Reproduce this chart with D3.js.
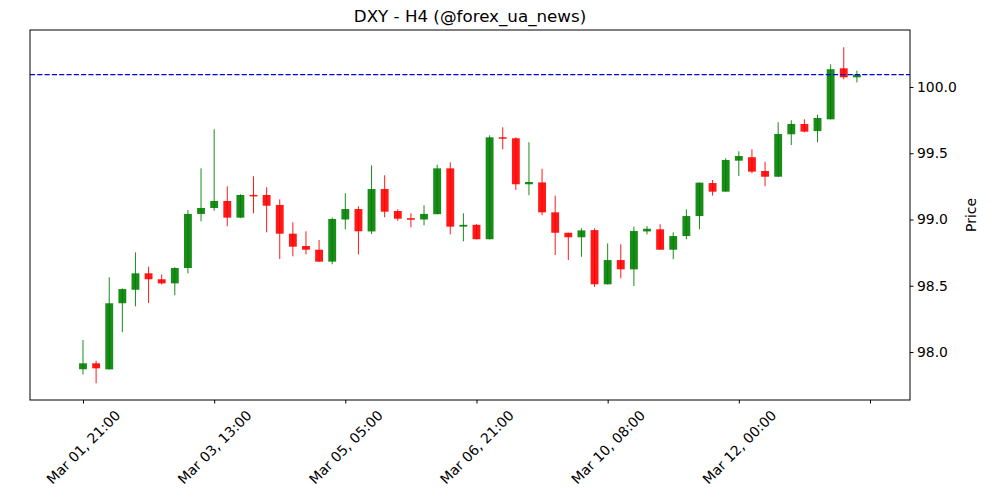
<!DOCTYPE html>
<html>
<head>
<meta charset="utf-8">
<script src="https://cdn.jsdelivr.net/npm/d3@7"></script>
<style>
  html, body { margin: 0; padding: 0; background: #fff; }
  svg { display: block; font-family: "DejaVu Sans", sans-serif; }
</style>
</head>
<body>
<svg id="chart" width="1000" height="500"></svg>
<script>
// ---- data ----
const opens  = [97.87, 97.915, 97.869, 98.368, 98.47, 98.594, 98.549, 98.518, 98.634, 99.042,
                99.087, 99.14, 99.014, 99.185, 99.185, 99.11, 98.893, 98.8, 98.772, 98.682,
                99.0, 99.079, 98.91, 99.23, 99.064, 99.01, 99.0, 99.04, 99.386, 98.946,
                98.96, 98.851, 99.62, 99.613, 99.266, 99.28, 99.054, 98.9, 98.866, 98.92,
                98.511, 98.694, 98.624, 98.91, 98.926, 98.772, 98.875, 99.026, 99.275, 99.21,
                99.444, 99.47, 99.366, 99.323, 99.643, 99.721, 99.667, 99.756, 100.141, 100.073];
const highs  = [98.09, 97.934, 98.564, 98.48, 98.752, 98.644, 98.586, 98.64, 99.072, 99.386,
                99.681, 99.251, 99.19, 99.326, 99.243, 99.152, 98.979, 98.911, 98.845, 99.014,
                99.198, 99.1, 99.409, 99.334, 99.077, 99.047, 99.107, 99.414, 99.432, 99.047,
                98.965, 99.635, 99.696, 99.62, 99.583, 99.383, 99.18, 98.9, 98.934, 98.934,
                98.82, 98.813, 98.946, 98.95, 98.964, 98.903, 99.077, 99.28, 99.298, 99.462,
                99.515, 99.53, 99.436, 99.734, 99.749, 99.756, 99.791, 100.171, 100.3, 100.123];
const lows   = [97.83, 97.764, 97.869, 98.149, 98.345, 98.37, 98.51, 98.428, 98.594, 98.986,
                99.066, 98.949, 99.01, 99.047, 98.903, 98.702, 98.722, 98.737, 98.68, 98.662,
                98.926, 98.737, 98.891, 99.017, 98.99, 98.941, 98.956, 99.04, 98.888, 98.835,
                98.85, 98.85, 99.53, 99.223, 99.183, 99.032, 98.732, 98.694, 98.719, 98.491,
                98.51, 98.556, 98.498, 98.888, 98.77, 98.7, 98.851, 98.926, 99.18, 99.21,
                99.328, 99.349, 99.251, 99.32, 99.562, 99.658, 99.583, 99.756, 100.058, 100.035];
const closes = [97.915, 97.877, 98.368, 98.475, 98.594, 98.549, 98.518, 98.634, 99.042, 99.087,
                99.14, 99.014, 99.185, 99.175, 99.104, 98.893, 98.795, 98.772, 98.682, 99.004,
                99.079, 98.911, 99.23, 99.059, 99.006, 98.998, 99.042, 99.386, 98.946, 98.96,
                98.851, 99.62, 99.61, 99.266, 99.283, 99.054, 98.9, 98.866, 98.918, 98.511,
                98.694, 98.624, 98.913, 98.93, 98.772, 98.875, 99.026, 99.278, 99.21, 99.449,
                99.479, 99.361, 99.323, 99.645, 99.721, 99.663, 99.766, 100.134, 100.073, 100.093];
const xTickIndex  = [0, 10, 20, 30, 40, 50, 60];
const xTickLabels = ["Mar 01, 21:00", "Mar 03, 13:00", "Mar 05, 05:00", "Mar 06, 21:00",
                     "Mar 10, 08:00", "Mar 12, 00:00", ""];
const yTicks = [98.0, 98.5, 99.0, 99.5, 100.0];
const lastPrice = 100.093;
const title = "DXY - H4 (@forex_ua_news)";
const yLabel = "Price";

// ---- layout ----
const L = 30, R = 910, T = 30, B = 400;
const svg = d3.select("#chart");
const x = d3.scaleLinear().domain([-4.04, 63.05]).range([L, R]);
const y = d3.scaleLinear().domain([97.638, 100.43]).range([B, T]);

const candles = opens.map((o, i) => ({i, o, h: highs[i], l: lows[i], c: closes[i]}));
const up = "#008000", dn = "#ff0000";
const bw = x(0.6) - x(0);

const plot = svg.append("g");
// wicks
plot.selectAll("line.wick").data(candles).join("line")
  .attr("x1", d => x(d.i)).attr("x2", d => x(d.i))
  .attr("y1", d => y(d.h)).attr("y2", d => y(d.l))
  .attr("stroke", d => d.c >= d.o ? up : dn)
  .attr("stroke-opacity", 0.9)
  .attr("stroke-width", 1);
// bodies
plot.selectAll("rect.body").data(candles).join("rect")
  .attr("x", d => x(d.i) - bw / 2)
  .attr("width", bw)
  .attr("y", d => {
    const top = y(Math.max(d.o, d.c)), bot = y(Math.min(d.o, d.c));
    return bot - top < 1.5 ? (top + bot) / 2 - 0.75 : top;
  })
  .attr("height", d => Math.max(1.5, y(Math.min(d.o, d.c)) - y(Math.max(d.o, d.c))))
  .attr("fill", d => d.c >= d.o ? up : dn)
  .attr("fill-opacity", 0.9);

// last price line
svg.append("line")
  .attr("x1", L).attr("x2", R)
  .attr("y1", y(lastPrice)).attr("y2", y(lastPrice))
  .attr("stroke", "#0000dd").attr("stroke-width", 1.2)
  .attr("stroke-dasharray", "5.1,2.2");

// frame
svg.append("rect").attr("x", L).attr("y", T).attr("width", R - L).attr("height", B - T)
  .attr("fill", "none").attr("stroke", "#000").attr("stroke-width", 1);

// y axis on right
const yAxis = d3.axisRight(y).tickValues(yTicks).tickFormat(d3.format(".1f"))
  .tickSize(3.5).tickPadding(3.5);
const gy = svg.append("g").attr("transform", `translate(${R},0)`).call(yAxis);
gy.select(".domain").remove();
gy.selectAll("text").attr("font-size", "13.9px").attr("fill", "#000")
  .attr("font-family", "DejaVu Sans");
gy.selectAll("line").attr("stroke", "#000");

// x axis
const xAxis = d3.axisBottom(x).tickValues(xTickIndex)
  .tickFormat((d, k) => xTickLabels[k]).tickSize(3.5).tickPadding(3.5);
const gx = svg.append("g").attr("transform", `translate(0,${B})`).call(xAxis);
gx.select(".domain").remove();
gx.selectAll("line").attr("stroke", "#000");
gx.selectAll("text")
  .attr("font-size", "13.9px").attr("font-family", "DejaVu Sans").attr("fill", "#000")
  .attr("text-anchor", "middle").attr("dy", "0.35em")
  .each(function() {
    const w = this.getComputedTextLength();
    const h = 16.2;
    const cy = 7 + (w + h) * 0.7071 / 2;
    d3.select(this).attr("y", null)
      .attr("transform", `translate(0,${cy}) rotate(-45)`);
  });

// title
svg.append("text").attr("x", (L + R) / 2).attr("y", T - 8)
  .attr("text-anchor", "middle").attr("font-size", "16.7px").attr("fill", "#000")
  .text(title);

// y label
svg.append("text")
  .attr("transform", `translate(971,${(T + B) / 2}) rotate(-90)`)
  .attr("text-anchor", "middle").attr("dy", "0.35em")
  .attr("font-size", "13.9px").attr("fill", "#000")
  .text(yLabel);
</script>
</body>
</html>
